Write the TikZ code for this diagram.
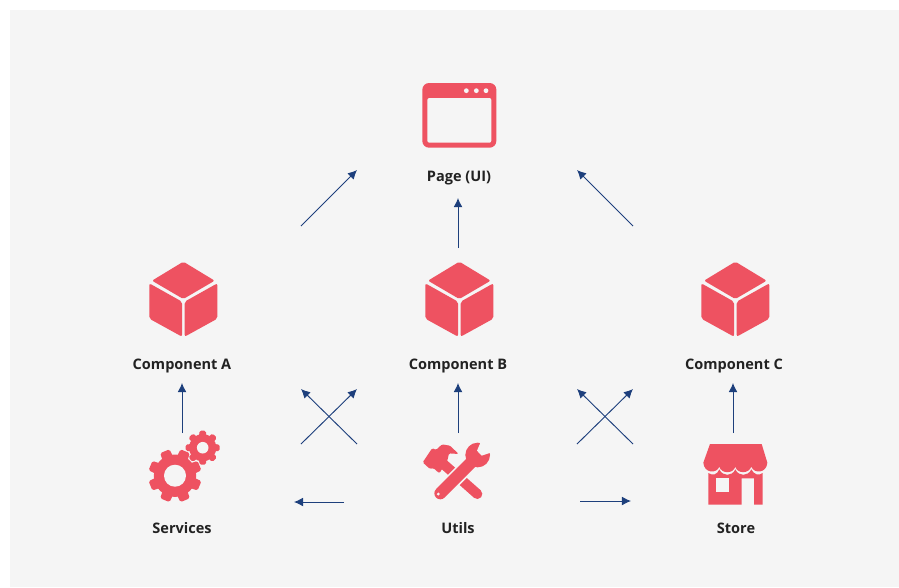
\documentclass[tikz,border=0pt]{standalone}
\usepackage{fontspec}
\setmainfont{Open Sans}
\usetikzlibrary{arrows.meta,calc}
\definecolor{panel}{HTML}{F5F5F5}
\definecolor{iconred}{HTML}{EE5261}
\definecolor{arrowblue}{HTML}{1D3F7C}
\definecolor{labelink}{HTML}{222222}
\tikzset{
  x=0.75pt,y=-0.75pt,
  flow/.style={draw=arrowblue,line width=0.7pt,-{Latex[length=6.8pt,width=6.6pt]}},
  lbl/.style={text=labelink,font=\fontsize{10.9pt}{13pt}\selectfont\bfseries,inner sep=0pt,anchor=base},
  red/.style={fill=iconred,draw=none},
  gapfill/.style={fill=panel,draw=none},
  zoomed/.style={x=0.25pt,y=-0.25pt}
}
\newcommand{\cubeicon}[1]{%
  \begin{scope}[shift={(#1,250)},zoomed]
    \fill[red,rounded corners=1.5pt] (178,35)--(272,92)--(178,147)--(84,92)--cycle;
    \fill[red,rounded corners=1.5pt] (76,100)--(174,155)--(174,260)--(76,206)--cycle;
    \fill[red,rounded corners=1.5pt] (280,100)--(182,155)--(182,260)--(280,206)--cycle;
  \end{scope}}
\newcommand{\gearicon}[5]{%
  \foreach \a in {0,45,...,315}{
    \fill[red,rotate around={\a+#5:(#1,#2)},rounded corners=1.2pt]
      ($(#1,#2)+(-0.26*#3,0)$) -- ++(0.07*#3,-#3) -- ++(0.38*#3,0) -- ++(0.07*#3,#3) -- cycle;
  }
  \fill[red] (#1,#2) circle[radius=0.8*#3*0.75pt];
  \fill[gapfill] (#1,#2) circle[radius=#4*0.75pt];}
\begin{document}
\begin{tikzpicture}
\useasboundingbox (0,0) rectangle (899,587);
\fill[white] (0,0) rectangle (899,587);
\fill[panel] (10,10) rectangle (899,587);

% page icon
\begin{scope}[shift={(400,70)},zoomed]
  \fill[red,rounded corners=5pt] (67,39) rectangle (289,233);
  \fill[gapfill,rounded corners=1.5pt] (82,84) rectangle (274,218);
  \foreach \dx in {199,229,258} \fill[gapfill] (\dx,62) circle[radius=1.8pt];
\end{scope}

\cubeicon{124}
\cubeicon{400}
\cubeicon{676}

% gears
\gearicon{175}{475.7}{26.5}{11}{22.5}
\gearicon{202.7}{447.7}{17}{5.8}{0}

% tools
\begin{scope}[shift={(400,430)},zoomed]
  \draw[iconred,line width=7.5pt,line cap=round] (128,100)--(232,192);
  \fill[red,rounded corners=1pt] (68,97)--(97,54)--(108,60)--(126,43)--(150,47)--(176,72)--(147,70)--(142,92)--(118,130)--(100,114)--(90,117)--cycle;
  \draw[panel,line width=11.5pt] (148,163)--(190,121);
  \draw[iconred,line width=9pt,line cap=round] (121,190)--(215,96);
  \fill[red] (233,75) circle[radius=37];
  \fill[gapfill] (243,34)--(231,62)--(245,77)--(278,66)--(287,28)--cycle;
  \fill[gapfill] (115,192) circle[radius=1.2pt];
\end{scope}

% store
\begin{scope}[shift={(680,430)},zoomed]
  \fill[red] (90,42)--(245,42)--(262,98)
    .. controls (260,130) and (222,132) .. (214,110)
    .. controls (206,132) and (172,132) .. (166,110)
    .. controls (160,132) and (124,132) .. (118,110)
    .. controls (110,132) and (72,130) .. (70,98)--cycle;
  \fill[red] (85,129)
    .. controls (98,138) and (112,134) .. (118,118)
    .. controls (128,140) and (156,140) .. (166,118)
    .. controls (176,140) and (204,140) .. (214,118)
    .. controls (222,134) and (236,138) .. (248,129)
    --(248,224)--(222,224)--(222,145)--(185,145)--(185,224)--(85,224)--cycle;
  \fill[gapfill] (108,145) rectangle (147,187);
\end{scope}

% labels
\node[lbl] (page) at (459,181) {Page (UI)};
\node[lbl] (compA) at (182,369.5) {Component A};
\node[lbl] (compB) at (458,369.5) {Component B};
\node[lbl] (compC) at (734,369.5) {Component C};
\node[lbl] (services) at (182,533) {Services};
\node[lbl] (utils) at (458,533) {Utils};
\node[lbl] (store) at (736,533) {Store};

% arrow ends
\coordinate (a1s) at (301,226); \coordinate (a1e) at (357,170);
\coordinate (a2s) at (458,248); \coordinate (a2e) at (458,198);
\coordinate (a3s) at (633,226); \coordinate (a3e) at (577,170);
\coordinate (a4s) at (182,433); \coordinate (a4e) at (182,383);
\coordinate (a5s) at (458,433); \coordinate (a5e) at (458,383);
\coordinate (a6s) at (733,433); \coordinate (a6e) at (733,383);
\coordinate (x1s) at (301,444); \coordinate (x1e) at (357,389);
\coordinate (x2s) at (357,444); \coordinate (x2e) at (301,389);
\coordinate (x3s) at (577,444); \coordinate (x3e) at (633,389);
\coordinate (x4s) at (633,444); \coordinate (x4e) at (577,389);
\coordinate (h1s) at (344,502); \coordinate (h1e) at (294,502);
\coordinate (h2s) at (580,501); \coordinate (h2e) at (631,501);
\foreach \n in {a1,a2,a3,a4,a5,a6,x1,x2,x3,x4,h1,h2}
  \draw[flow] (\n s) -- (\n e);
\end{tikzpicture}
\end{document}
